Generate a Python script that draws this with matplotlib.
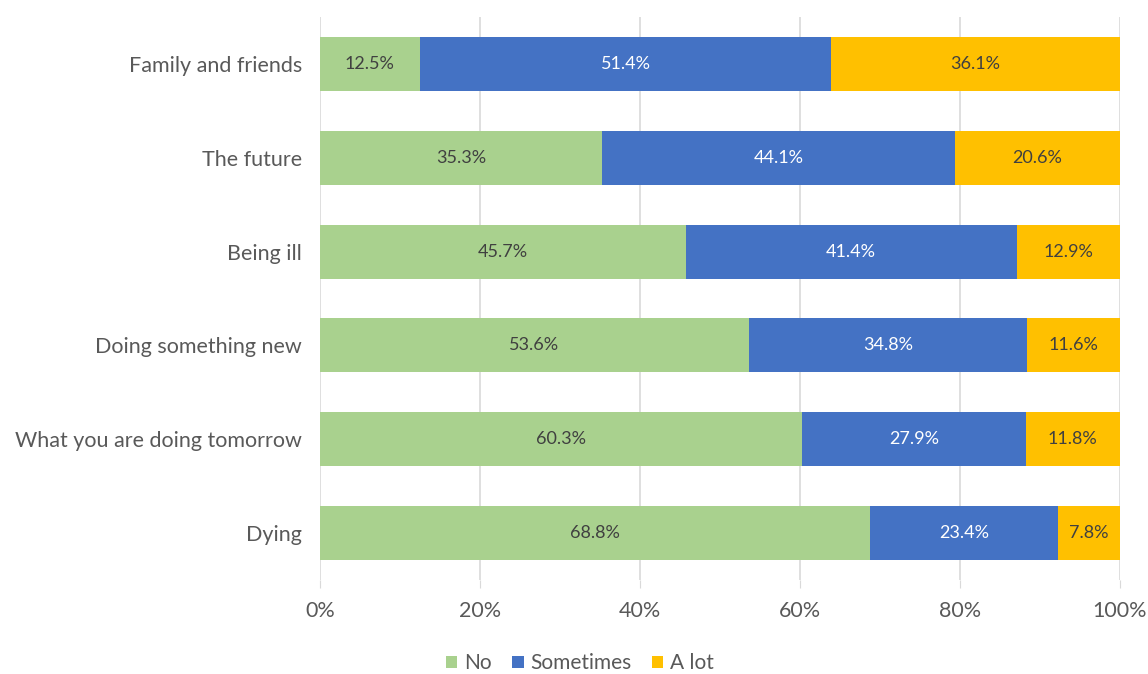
import matplotlib
matplotlib.use("Agg")
import matplotlib.pyplot as plt
import numpy as np

plt.rcParams['font.family'] = ['Lato', 'DejaVu Sans']

# data (top to bottom as in the chart)
categories = ['Family and friends', 'The future', 'Being ill', 'Doing something new',
              'What you are doing tomorrow', 'Dying']
no_vals = [12.5, 35.3, 45.7, 53.6, 60.3, 68.8]
sometimes_vals = [51.4, 44.1, 41.4, 34.8, 27.9, 23.4]
alot_vals = [36.1, 20.6, 12.9, 11.6, 11.8, 7.8]
series_names = ['No', 'Sometimes', 'A lot']

colors = ['#A9D18E', '#4472C4', '#FFC000']
text_colors = ['#404040', 'white', '#404040']

fig = plt.figure(figsize=(11.48, 6.74), dpi=100)
ax = fig.add_axes([0.2787, 0.1395, 0.6969, 0.8353])

y = np.arange(len(categories))[::-1]
left = np.zeros(len(categories))
for vals, name, c, tc in zip([no_vals, sometimes_vals, alot_vals], series_names, colors, text_colors):
    vals = np.array(vals)
    ax.barh(y, vals, left=left, height=0.575, color=c, label=name, zorder=3)
    for yi, l, v in zip(y, left, vals):
        ax.text(l + v / 2, yi, f'{v:.1f}%', ha='center', va='center',
                color=tc, fontsize=13, zorder=4)
    left += vals

ax.set_xlim(0, 100)
ax.set_ylim(-0.5, 5.5)
ax.set_yticks(y)
ax.set_yticklabels(categories, fontsize=15.5, color='#595959')
ax.set_xticks(np.arange(0, 101, 20))
ax.set_xticklabels([f'{t}%' for t in range(0, 101, 20)], fontsize=15.5, color='#595959')
ax.xaxis.grid(True, color='#D9D9D9', linewidth=1.2, zorder=0)
ax.tick_params(axis='y', length=0, pad=13)
ax.tick_params(axis='x', length=6, color='#D9D9D9', pad=9)
for s in ax.spines.values():
    s.set_visible(False)

fig.legend(loc='center', bbox_to_anchor=(0.505, 0.016), ncol=3, frameon=False,
           fontsize=15, handlelength=0.55, handleheight=0.55, handletextpad=0.3,
           columnspacing=1.0, labelcolor='#595959', borderpad=0.1)

fig.savefig('out.png', dpi=100)
